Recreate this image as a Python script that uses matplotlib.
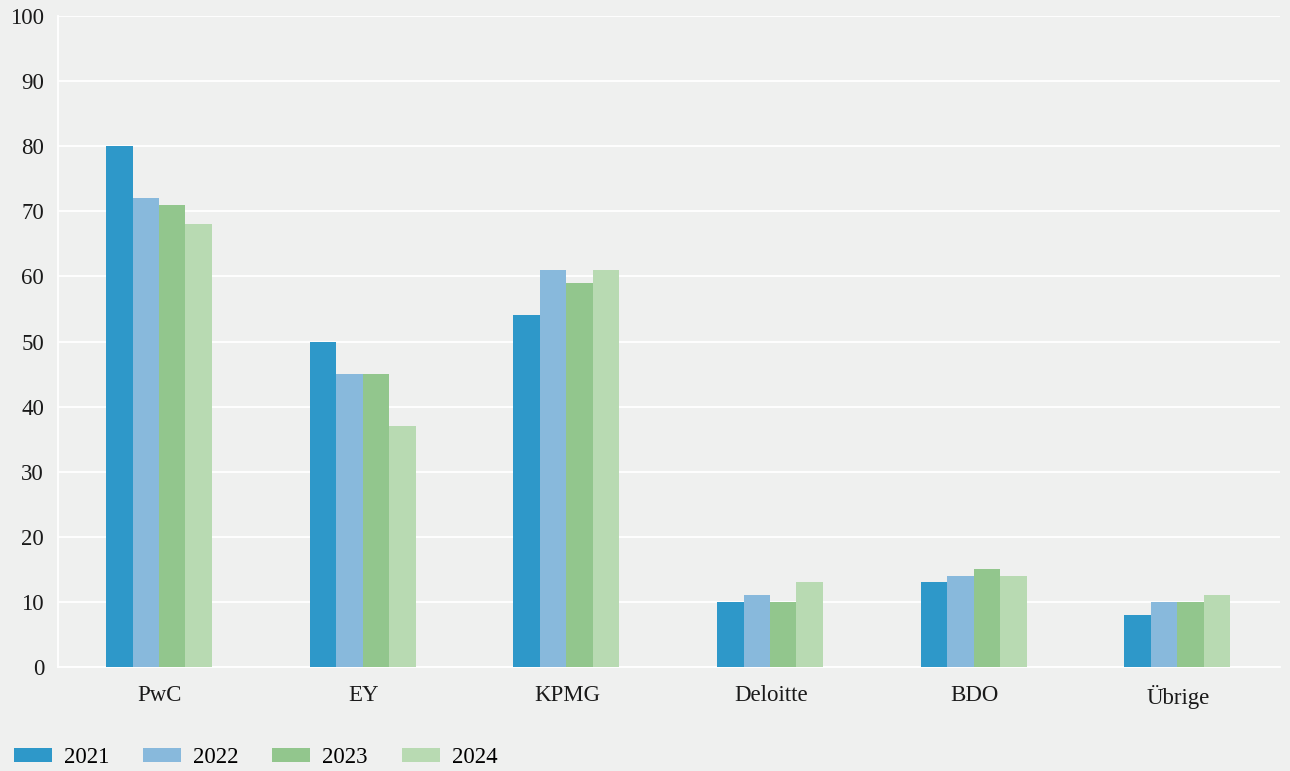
import matplotlib
matplotlib.use("Agg")
import matplotlib.pyplot as plt
from matplotlib.patches import Patch
import numpy as np

categories = ["PwC", "EY", "KPMG", "Deloitte", "BDO", "Übrige"]
years = ["2021", "2022", "2023", "2024"]
v2021 = [80, 50, 54, 10, 13, 8]
v2022 = [72, 45, 61, 11, 14, 10]
v2023 = [71, 45, 59, 10, 15, 10]
v2024 = [68, 37, 61, 13, 14, 11]
series = [v2021, v2022, v2023, v2024]
colors = ["#2e98c9", "#88b9dc", "#92c68d", "#b8dab2"]
yticks = [0, 10, 20, 30, 40, 50, 60, 70, 80, 90, 100]

plt.rcParams['font.family'] = ['Liberation Serif', 'DejaVu Serif']
bg = "#eff0ef"
fig = plt.figure(figsize=(12.9, 7.71), dpi=100, facecolor=bg)
ax = fig.add_axes([58/1290, 1-667/771, (1280-58)/1290, (667-16)/771], facecolor=bg)

x = np.arange(len(categories)) + 0.5
w = 0.13
for i, (vals, c) in enumerate(zip(series, colors)):
    ax.bar(x + (i - 1.5) * w - 0.004, vals, width=w, color=c, zorder=3, label=years[i])

ax.set_xlim(0, len(categories))
ax.set_ylim(0, 100)
ax.set_yticks(yticks)
ax.set_xticks(x)
ax.set_xticklabels(categories)
ax.yaxis.grid(True, color="white", linewidth=1.3, zorder=0)
ax.set_axisbelow(True)
for s in ["top", "right"]:
    ax.spines[s].set_visible(False)
ax.spines["left"].set_color("white")
ax.spines["left"].set_linewidth(1.3)
ax.spines["bottom"].set_color("white")
ax.spines["bottom"].set_linewidth(1.3)
ax.tick_params(axis="both", length=0, labelsize=16.5, colors="#1a1a1a")
ax.tick_params(axis="x", pad=13)
ax.tick_params(axis="y", pad=10)

handles = [Patch(facecolor=c, label=y) for c, y in zip(colors, years)]
fig.legend(handles=handles, loc="lower left", bbox_to_anchor=(0.0, -0.014), ncol=4,
           frameon=False, fontsize=16.5, handlelength=1.66, handleheight=0.55,
           handletextpad=0.52, columnspacing=1.48, borderaxespad=0.2)

fig.savefig("out.png", dpi=100, facecolor=bg)
